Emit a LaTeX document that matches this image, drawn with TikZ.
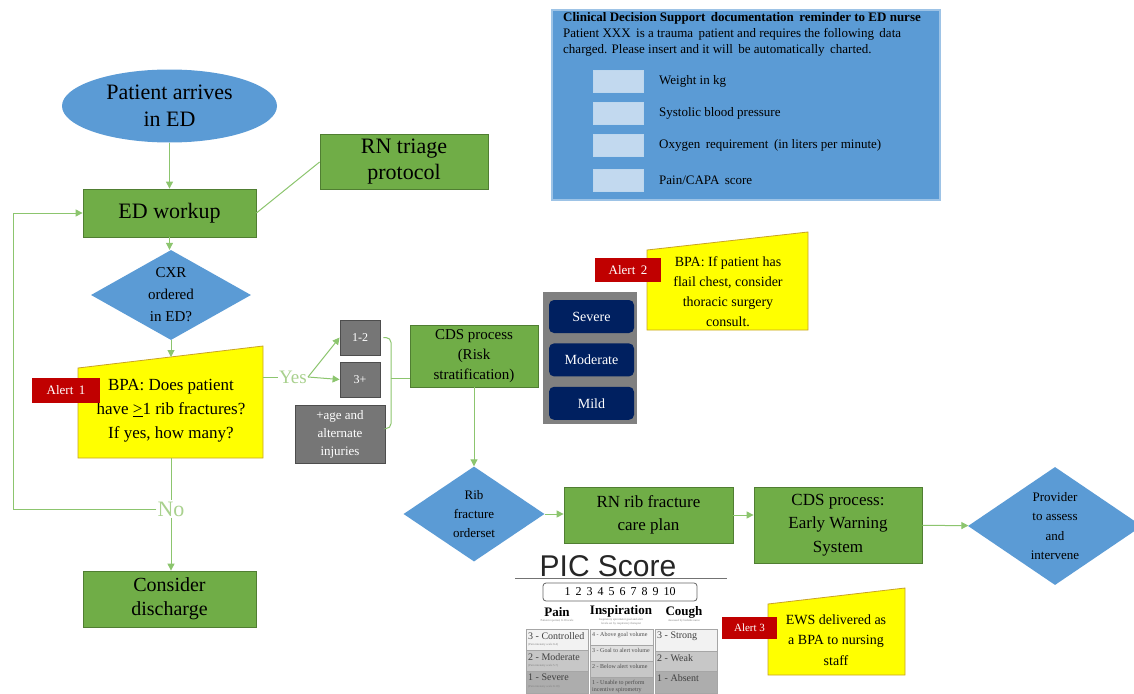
\documentclass[tikz,border=0pt]{standalone}
\usepackage{fontspec}
\setmainfont{Liberation Serif}
\newfontfamily\picsans{Liberation Sans}
\usetikzlibrary{positioning,shapes.geometric,arrows.meta}

\definecolor{boxgreen}{HTML}{70AD47}
\definecolor{boxgreenline}{HTML}{507E32}
\definecolor{linegreen}{HTML}{8CC56E}
\definecolor{labgreen}{HTML}{A9D18E}
\definecolor{flowblue}{HTML}{5B9BD5}
\definecolor{remindline}{HTML}{9DC3E6}
\definecolor{fieldblue}{HTML}{C2D9EF}
\definecolor{alertred}{HTML}{C00000}
\definecolor{bpayellow}{HTML}{FFFF00}
\definecolor{bpaline}{HTML}{C9A227}
\definecolor{tiergray}{HTML}{767676}
\definecolor{tierline}{HTML}{4D4D4D}
\definecolor{panelgray}{HTML}{808080}
\definecolor{tiernavy}{HTML}{002060}

\tikzset{
  flow/.style={draw=linegreen, line width=1pt, -{Triangle[length=7pt,width=7pt]}},
  link/.style={draw=linegreen, line width=1pt},
  process/.style={rectangle, draw=boxgreenline, fill=boxgreen, line width=0.8pt,
    align=center, inner sep=0pt},
  decision/.style={diamond, fill=flowblue, align=center, inner sep=0pt},
  startnode/.style={ellipse, fill=flowblue, align=center, inner sep=0pt},
  alertflag/.style={rectangle, fill=alertred, text=white, inner sep=0pt},
  bpashape/.style={fill=bpayellow, draw=bpaline, line width=0.8pt},
  tierbox/.style={rectangle, fill=tiergray, draw=tierline, line width=0.8pt,
    text=white, align=center, inner sep=0pt},
  levelbox/.style={rectangle, rounded corners=5pt, fill=tiernavy, text=white,
    inner sep=0pt, minimum width=85pt, minimum height=33pt,
    font=\fontsize{14}{16}\selectfont},
  field/.style={rectangle, fill=fieldblue, draw=white!60!flowblue, line width=0.8pt,
    minimum width=50pt, minimum height=22pt},
  answer/.style={text=labgreen, inner sep=1pt},
  piccell/.style={draw=black!35, line width=0.5pt},
}

\begin{document}
\begin{tikzpicture}[x=1pt, y=-1pt]
  \fill[white] (0,0) rectangle (1134,693);
  \useasboundingbox (0,0) rectangle (1134,693);

  % main column
  \node[startnode, minimum width=215pt, minimum height=73pt,
    font=\fontsize{22}{27}\selectfont] (arrive) at (169.5,106) {Patient arrives\\in ED};
  \node[process, minimum width=173pt, minimum height=48pt,
    font=\fontsize{22}{26}\selectfont] (workup) at (169.5,213) {ED workup};
  \node[process, minimum width=168pt, minimum height=55pt,
    font=\fontsize{22}{26}\selectfont] (triage) at (404,162) {RN triage\\protocol};
  \node[decision, minimum width=160pt, minimum height=90pt, shape aspect=1.78,
    font=\fontsize{15}{22}\selectfont] (cxr) at (171,295) {CXR\\ordered\\in ED?};

  % alert 1
  \coordinate (b1top) at (171,357);
  \coordinate (b1bot) at (171,458);
  \coordinate (b1east) at (263,377);
  \filldraw[bpashape] (78,368) -- (263,346) -- (263,458) -- (78,458) -- cycle;
  \node[align=center, font=\fontsize{17}{24}\selectfont] (bpa1) at (171,411)
    {BPA: Does patient\\have \underline{>}1 rib fractures?\\If yes, how many?};
  \node[alertflag, minimum width=68pt, minimum height=25pt,
    font=\fontsize{13}{15}\selectfont] (alert1) at (66,390.5) {Alert\, 1};

  \node[answer, font=\fontsize{19}{22}\selectfont] (yes) at (293,377) {Yes};
  \node[answer, font=\fontsize{22}{24}\selectfont] (no) at (171,509) {No};
  \node[process, minimum width=173pt, minimum height=56pt,
    font=\fontsize{20}{24}\selectfont] (discharge) at (169.5,599) {Consider\\discharge};

  % rib fracture counts
  \node[tierbox, minimum width=40pt, minimum height=35pt,
    font=\fontsize{12}{14}\selectfont] (tier12) at (360,337.5) {1-2};
  \node[tierbox, minimum width=40pt, minimum height=35pt,
    font=\fontsize{12}{14}\selectfont] (tier3) at (360,379.5) {3+};
  \node[tierbox, minimum width=90pt, minimum height=58pt,
    font=\fontsize{13}{18}\selectfont] (tierage) at (340,434) {+age and\\alternate\\injuries};
  \node[process, minimum width=128pt, minimum height=62pt,
    font=\fontsize{15}{20}\selectfont] (riskcds) at (474,356) {CDS process\\(Risk\\stratification)};

  % severity levels
  \node[rectangle, fill=panelgray, minimum width=94pt, minimum height=132pt] (panel) at (590,358) {};
  \node[levelbox] (severe) at (591.5,316.5) {Severe};
  \node[levelbox, below=10pt of severe] (moderate) {Moderate};
  \node[levelbox, below=10pt of moderate] (mild) {Mild};

  % alert 2
  \filldraw[bpashape] (647,250) -- (808,232) -- (808,330) -- (647,330) -- cycle;
  \node[align=center, font=\fontsize{14}{20}\selectfont] (bpa2) at (728,292)
    {BPA: If patient has\\flail chest, consider\\thoracic surgery\\consult.};
  \node[alertflag, minimum width=66pt, minimum height=24pt,
    font=\fontsize{13}{15}\selectfont] (alert2) at (628,270) {Alert\, 2};

  % lower row
  \node[decision, minimum width=141pt, minimum height=95pt, shape aspect=1.5,
    font=\fontsize{13}{19}\selectfont] (orderset) at (474,514) {Rib\\fracture\\orderset};
  \node[process, minimum width=169pt, minimum height=56pt,
    font=\fontsize{17}{23}\selectfont] (careplan) at (648.5,515) {RN rib fracture\\care plan};
  \node[process, minimum width=168pt, minimum height=76pt,
    font=\fontsize{17}{23.5}\selectfont] (ews) at (838,525) {CDS process:\\Early Warning\\System};
  \node[decision, minimum width=174pt, minimum height=118pt, shape aspect=1.47,
    font=\fontsize{13}{19.5}\selectfont] (provider) at (1055,526) {Provider\\to assess\\and\\intervene};

  % alert 3
  \filldraw[bpashape] (768,604) -- (905,588) -- (905,675) -- (768,675) -- cycle;
  \node[align=center, font=\fontsize{14}{20.5}\selectfont] (bpa3) at (836,640)
    {EWS delivered as\\a BPA to nursing\\staff};
  \node[alertflag, minimum width=55pt, minimum height=22pt,
    font=\fontsize{11}{13}\selectfont] (alert3) at (749.5,627.5) {Alert 3};

  % documentation reminder
  \node[rectangle, fill=flowblue, draw=remindline, line width=1.2pt,
    minimum width=388pt, minimum height=190pt] (remind) at (746,105) {};
  \node[anchor=north west, align=left, inner sep=0pt,
    font=\fontsize{13}{16}\selectfont] (remindtext) at (563,12)
    {\textbf{Clinical Decision Support\, documentation\, reminder to ED nurse}\\
     Patient XXX\, is a trauma\, patient and requires the following\, data\\
     charged. Please insert and it will\, be automatically\, charted.};
  \foreach \y/\lab [count=\i] in {81/Weight in kg, 113/Systolic blood pressure,
      145.5/Oxygen\, requirement\, (in liters per minute), 180/{Pain/CAPA\, score}} {
    \node[field] (field\i) at (618,\y) {};
    \node[anchor=west, inner sep=0pt, font=\fontsize{13}{15}\selectfont]
      (fieldlab\i) at (659,\y) {\lab};
  }

  % PIC score card
  \node[font=\picsans\fontsize{30}{33}\selectfont, text=black!85, inner sep=0pt] (pictitle) at (608,566) {PIC Score};
  \draw[black!55, line width=1.5pt] (515,578.5) -- (727,578.5);
  \node[draw=black!60, line width=0.8pt, rounded corners=3pt, minimum width=154pt,
    minimum height=18pt, inner sep=0pt, font=\fontsize{12}{14}\selectfont]
    (picscale) at (620,592) {1\, 2\, 3\, 4\, 5\, 6\, 7\, 8\, 9\, 10};
  \node[font=\bfseries\fontsize{13}{14}\selectfont, inner sep=0pt] (picpain) at (557,612) {Pain};
  \node[font=\bfseries\fontsize{13}{14}\selectfont, inner sep=0pt] (picinsp) at (621,611) {Inspiration};
  \node[font=\bfseries\fontsize{13}{14}\selectfont, inner sep=0pt] (piccough) at (684,612) {Cough};
  \node[font=\fontsize{3}{3.5}\selectfont, text=black!50, inner sep=0pt] at (557,621) {Patient reported, 0-10 scale};
  \node[font=\fontsize{3}{3.5}\selectfont, text=black!50, inner sep=0pt, align=center] at (621,622)
    {Inspiratory spirometer goal and alert\\levels set by respiratory therapist};
  \node[font=\fontsize{3}{3.5}\selectfont, text=black!50, inner sep=0pt] at (684,621) {Assessed by bedside nurse};
  % pain column
  \filldraw[piccell, fill=black!5] (526,629) rectangle (588,650);
  \filldraw[piccell, fill=black!22] (526,650) rectangle (588,671);
  \filldraw[piccell, fill=black!32] (526,671) rectangle (588,693);
  \foreach \y/\lab/\sub in {629/3 - Controlled/(Pain intensity scale 0-4),
      650/2 - Moderate/(Pain intensity scale 5-7), 671/1 - Severe/(Pain intensity scale 8-10)} {
    \node[anchor=north west, inner sep=0pt, font=\fontsize{10}{11}\selectfont, text=black!75]
      at (528,\y+3) {\lab};
    \node[anchor=north west, inner sep=0pt, font=\fontsize{3}{3.5}\selectfont, text=black!50]
      at (528,\y+14) {\sub};
  }
  % inspiration column
  \filldraw[piccell, fill=black!5] (590,629) rectangle (653,645);
  \filldraw[piccell, fill=black!12] (590,645) rectangle (653,661);
  \filldraw[piccell, fill=black!22] (590,661) rectangle (653,677);
  \filldraw[piccell, fill=black!32] (590,677) rectangle (653,693);
  \foreach \y/\lab in {629/4 - Above goal volume, 645/3 - Goal to alert volume,
      661/2 - Below alert volume, 677/{1 - Unable to perform\\incentive spirometry}} {
    \node[anchor=north west, inner sep=0pt, align=left, font=\fontsize{6}{7}\selectfont, text=black!70]
      at (592,\y+3) {\lab};
  }
  % cough column
  \filldraw[piccell, fill=black!5] (655,629) rectangle (717,651);
  \filldraw[piccell, fill=black!22] (655,651) rectangle (717,671);
  \filldraw[piccell, fill=black!32] (655,671) rectangle (717,693);
  \foreach \y/\lab in {629/3 - Strong, 651/2 - Weak, 671/1 - Absent} {
    \node[anchor=north west, inner sep=0pt, font=\fontsize{10}{11}\selectfont, text=black!75]
      at (657,\y+3) {\lab};
  }

  % connectors
  \draw[flow] (arrive) -- (workup);
  \draw[link] (workup.east) -- (triage.west);
  \draw[flow] (workup) -- (workup |- cxr.north);
  \draw[flow] (cxr) -- (b1top);
  \draw[link] (b1bot) -- (no);
  \draw[flow] (no) -- (no |- discharge.north);
  \coordinate (loop) at (13,509);
  \draw[flow] (no.west) -- (loop) |- (workup.west);
  \draw[link] (b1east) -- (yes.west);
  \draw[flow] (yes.east) -- (tier12.west);
  \draw[flow] (yes.east) -- (tier3.west);
  \coordinate (brace) at (391,378);
  \draw[link, rounded corners=5pt] ([xshift=3pt]tier12.east) -| (brace);
  \draw[link, rounded corners=5pt] ([xshift=1pt,yshift=-24pt]tierage.north east) -| (brace);
  \draw[link] (brace) -- (brace -| riskcds.west);
  \draw[flow] (riskcds) -- (orderset);
  \draw[flow] (orderset) -- (orderset -| careplan.west);
  \coordinate (ewsin) at (careplan.east);
  \draw[flow] (ewsin) -- (ewsin -| ews.west);
  \draw[flow] (ews) -- (provider);
\end{tikzpicture}
\end{document}
